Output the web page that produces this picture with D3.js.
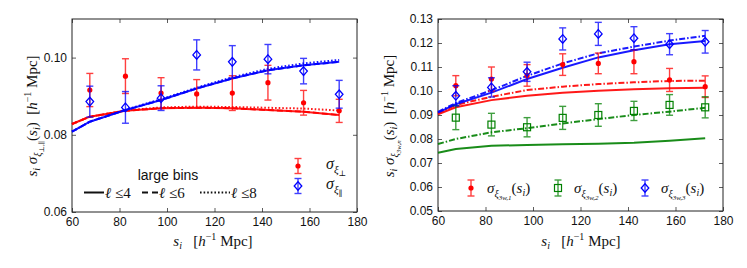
<!DOCTYPE html>
<html><head><meta charset="utf-8">
<script src="https://cdn.jsdelivr.net/npm/d3@7"></script>
<style>body{margin:0;background:#fff}text{white-space:pre}</style>
</head><body><svg id="c" width="747" height="268"></svg>
<script>
// ---------- data ----------
const binCenters = [67.5, 82.5, 97.5, 112.5, 127.5, 142.5, 157.5, 172.5];
const modelX = [60, 67.5, 82.5, 97.5, 112.5, 127.5, 142.5, 157.5, 172.5];
const xTicks = [60, 80, 100, 120, 140, 160, 180];
const leftYTicks = [0.06, 0.08, 0.10];
const rightYTicks = [0.05, 0.06, 0.07, 0.08, 0.09, 0.10, 0.11, 0.12, 0.13];

// left panel: sigma_xi_perp (red) and sigma_xi_par (blue)
const perpVal = [0.0916, 0.0952, 0.0908, 0.0906, 0.0908, 0.0935, 0.0883, 0.0862];
const perpErr = [0.0043, 0.0045, 0.0040, 0.0037, 0.0045, 0.0045, 0.0032, 0.0030];
const parVal  = [0.0886, 0.0871, 0.0895, 0.1007, 0.0989, 0.0996, 0.0965, 0.0905];
const parErr  = [0.0040, 0.0041, 0.0032, 0.0039, 0.0042, 0.0038, 0.0033, 0.0036];
const perpL4 = [0.0828, 0.0847, 0.0862, 0.0869, 0.0870, 0.0869, 0.0864, 0.0860, 0.0851];
const perpL6 = [0.0828, 0.0847, 0.0862, 0.0869, 0.0870, 0.0869, 0.0864, 0.0860, 0.0851];
const perpL8 = [0.0828, 0.0847, 0.0863, 0.0871, 0.0873, 0.0872, 0.0870, 0.0868, 0.0863];
const parL4  = [0.0808, 0.0834, 0.0864, 0.0890, 0.0920, 0.0946, 0.0967, 0.0980, 0.0989];
const parL6  = [0.0808, 0.0834, 0.0864, 0.0890, 0.0920, 0.0946, 0.0967, 0.0980, 0.0989];
const parL8  = [0.0808, 0.0834, 0.0865, 0.0892, 0.0922, 0.0949, 0.0971, 0.0985, 0.0994];

// right panel: sigma_xi_3w,n
const w1Val = [0.1022, 0.1050, 0.1065, 0.1110, 0.1115, 0.1122, 0.1046, 0.1018];
const w1Err = [0.0042, 0.0050, 0.0045, 0.0045, 0.0043, 0.0050, 0.0048, 0.0045];
const w2Val = [0.0889, 0.0860, 0.0849, 0.0888, 0.0900, 0.0917, 0.0942, 0.0932];
const w2Err = [0.0050, 0.0047, 0.0040, 0.0048, 0.0047, 0.0040, 0.0043, 0.0044];
const w3Val = [0.0980, 0.1015, 0.1080, 0.1217, 0.1238, 0.1220, 0.1195, 0.1205];
const w3Err = [0.0042, 0.0040, 0.0040, 0.0046, 0.0048, 0.0048, 0.0044, 0.0047];
const w1Solid   = [0.0903, 0.0932, 0.0962, 0.0980, 0.0993, 0.1001, 0.1007, 0.1011, 0.1014];
const w1DashDot = [0.0908, 0.0942, 0.0976, 0.1004, 0.1018, 0.1029, 0.1036, 0.1042, 0.1043];
const w2Solid   = [0.0743, 0.0758, 0.0772, 0.0775, 0.0778, 0.0780, 0.0784, 0.0793, 0.0803];
const w2DashDot = [0.0779, 0.0800, 0.0828, 0.0845, 0.0865, 0.0883, 0.0900, 0.0914, 0.0930];
const w3Solid   = [0.0910, 0.0945, 0.0993, 0.1050, 0.1097, 0.1140, 0.1170, 0.1195, 0.1208];
const w3DashDot = [0.0913, 0.0950, 0.1003, 0.1063, 0.1115, 0.1157, 0.1185, 0.1210, 0.1230];

// ---------- style ----------
const RED = '#ff0000', BLUE = '#0000ff', GREEN = '#008000';
const SERIF = '"Liberation Serif","DejaVu Serif",serif';
const SANS = '"Liberation Sans",Arial,sans-serif';
const svg = d3.select('#c');

function mathText(parent, x, y, parts, anchor, rotate) {
  const t = parent.append('text').attr('x', x).attr('y', y)
    .attr('text-anchor', anchor || 'start').attr('font-family', SERIF).attr('fill', '#111');
  if (rotate) t.attr('transform', `rotate(${rotate},${x},${y})`);
  let cur = 0;
  parts.forEach(p => {
    const o = p.o || 0;
    t.append('tspan').attr('dy', o - cur).attr('font-size', p.s || 15)
      .attr('font-style', p.i ? 'italic' : 'normal').text(p.t);
    cur = o;
  });
  return t;
}
const si = [{t: 's', i: 1}, {t: 'i', i: 1, s: 10, o: 3}];
const hMpc = [{t: '[', o: 0}, {t: 'h', i: 1}, {t: '−1', s: 10, o: -6}, {t: ' Mpc]', o: 0}];

function panel(cfg) {
  const x = d3.scaleLinear().domain([60, 180]).range([cfg.x0, cfg.x1]);
  const y = d3.scaleLinear().domain(cfg.yDom).range([cfg.y0, cfg.y1]);
  const g = svg.append('g');
  const fmtY = d3.format('.2f');
  g.append('g').attr('transform', `translate(0,${cfg.y0})`)
    .call(d3.axisBottom(x).tickValues(xTicks).tickSizeInner(-4).tickSizeOuter(0).tickPadding(5).tickFormat(d3.format('d')));
  g.append('g').attr('transform', `translate(0,${cfg.y1})`)
    .call(d3.axisTop(x).tickValues(xTicks).tickSizeInner(-4).tickSizeOuter(0).tickFormat(''));
  g.append('g').attr('transform', `translate(${cfg.x0},0)`)
    .call(d3.axisLeft(y).tickValues(cfg.yTicks).tickSizeInner(-4).tickSizeOuter(0).tickPadding(5).tickFormat(fmtY));
  g.append('g').attr('transform', `translate(${cfg.x1},0)`)
    .call(d3.axisRight(y).tickValues(cfg.yTicks).tickSizeInner(-4).tickSizeOuter(0).tickFormat(''));
  g.selectAll('.domain').remove();
  g.selectAll('.tick line').attr('stroke', '#333').attr('stroke-width', 0.8);
  g.selectAll('.tick text').attr('font-family', SANS).attr('font-size', 12).attr('fill', '#111');
  g.append('rect').attr('x', cfg.x0).attr('y', cfg.y1).attr('width', cfg.x1 - cfg.x0).attr('height', cfg.y0 - cfg.y1)
    .attr('fill', 'none').attr('stroke', '#222').attr('stroke-width', 1);
  return {x, y, g};
}

function modelLine(P, vals, color, dash) {
  const line = d3.line().x((d, i) => P.x(modelX[i])).y(d => P.y(d));
  P.g.append('path').attr('d', line(vals)).attr('fill', 'none').attr('stroke', color)
    .attr('stroke-width', 2).attr('stroke-dasharray', dash || null).attr('opacity', 0.9);
}

function errorbar(g, cx, cy, top, bot, color) {
  const e = g.append('g').attr('stroke', color).attr('stroke-width', 1.4).attr('opacity', 0.75);
  e.append('line').attr('x1', cx).attr('x2', cx).attr('y1', top).attr('y2', bot);
  e.append('line').attr('x1', cx - 3.5).attr('x2', cx + 3.5).attr('y1', top).attr('y2', top);
  e.append('line').attr('x1', cx - 3.5).attr('x2', cx + 3.5).attr('y1', bot).attr('y2', bot);
}
function marker(g, type, cx, cy, color) {
  if (type === 'dot') g.append('circle').attr('cx', cx).attr('cy', cy).attr('r', 2.6).attr('fill', color);
  else if (type === 'diamond') g.append('path')
    .attr('d', `M${cx},${cy - 4.3}L${cx + 3.8},${cy}L${cx},${cy + 4.3}L${cx - 3.8},${cy}Z`)
    .attr('fill', 'none').attr('stroke', color).attr('stroke-width', 1.3);
  else g.append('rect').attr('x', cx - 3.5).attr('y', cy - 3.5).attr('width', 7).attr('height', 7)
    .attr('fill', 'none').attr('stroke', color).attr('stroke-width', 1.2);
}
function points(P, vals, errs, color, type) {
  vals.forEach((v, i) => {
    const cx = P.x(binCenters[i]);
    errorbar(P.g, cx, P.y(v), P.y(v + errs[i]), P.y(v - errs[i]), color);
    marker(P.g, type, cx, P.y(v), color);
  });
}

// ---------- left panel ----------
const L = panel({x0: 72, x1: 357, y0: 212, y1: 19, yDom: [0.06, 0.11], yTicks: leftYTicks});
modelLine(L, perpL6, RED, '6,3');
modelLine(L, perpL8, RED, '1.6,2');
modelLine(L, perpL4, RED);
modelLine(L, parL6, BLUE, '6,3');
modelLine(L, parL8, BLUE, '1.6,2');
modelLine(L, parL4, BLUE);
points(L, perpVal, perpErr, RED, 'dot');
points(L, parVal, parErr, BLUE, 'diamond');

// left legends
L.g.append('text').attr('x', 168).attr('y', 180).attr('text-anchor', 'middle')
  .attr('font-family', SANS).attr('font-size', 14).attr('fill', '#111').text('large bins');
const lsItems = [{x1: 84, x2: 104, dash: null, lab: '4'}, {x1: 142, x2: 158, dash: '6,4', lab: '6'}, {x1: 200, x2: 230, dash: '1.6,2', lab: '8'}];
lsItems.forEach(it => {
  L.g.append('line').attr('x1', it.x1).attr('x2', it.x2).attr('y1', 192.5).attr('y2', 192.5)
    .attr('stroke', '#111').attr('stroke-width', 2).attr('stroke-dasharray', it.dash);
  mathText(L.g, it.x2 + 1, 197.5, [{t: 'ℓ', i: 1}, {t: ' ≤'}, {t: it.lab}]);
});
[[RED, 'dot', 166, '⊥'], [BLUE, 'diamond', 186, '∥']].forEach(([c, m, yy, sym]) => {
  errorbar(L.g, 298, yy, yy - 7.5, yy + 7.5, c);
  marker(L.g, m, 298, yy, c);
  mathText(L.g, 326, yy + 3, [{t: 'σ', i: 1, s: 16}, {t: 'ξ', i: 1, s: 11, o: 4}, {t: sym, s: 8, o: 7}]);
});
// left labels
mathText(svg, 37, 116, [...si, {t: ' '}, {t: 'σ', i: 1}, {t: 'ξ', i: 1, s: 10, o: 4}, {t: '⊥,∥', s: 7, o: 7},
  {t: '(', o: 0}, {t: 's', i: 1}, {t: 'i', i: 1, s: 10, o: 3}, {t: ')  ', o: 0}, ...hMpc], 'middle', -90);
mathText(svg, 213, 246, [...si, {t: '   ', o: 0}, ...hMpc], 'middle');

// ---------- right panel ----------
const R = panel({x0: 438, x1: 723, y0: 211, y1: 19, yDom: [0.05, 0.13], yTicks: rightYTicks});
modelLine(R, w1Solid, RED);
modelLine(R, w1DashDot, RED, '6,2,1.5,2');
modelLine(R, w2Solid, GREEN);
modelLine(R, w2DashDot, GREEN, '6,2,1.5,2');
modelLine(R, w3Solid, BLUE);
modelLine(R, w3DashDot, BLUE, '6,2,1.5,2');
points(R, w1Val, w1Err, RED, 'dot');
points(R, w2Val, w2Err, GREEN, 'square');
points(R, w3Val, w3Err, BLUE, 'diamond');

[[RED, 'dot', 471, '1'], [GREEN, 'square', 558, '2'], [BLUE, 'diamond', 645, '3']].forEach(([c, m, xx, n]) => {
  errorbar(R.g, xx, 188, 180, 196, c);
  marker(R.g, m, xx, 188, c);
  mathText(R.g, xx + 16, 193, [{t: 'σ', i: 1}, {t: 'ξ', i: 1, s: 10, o: 4}, {t: '3w,' + n, i: 1, s: 7, o: 7},
    {t: '(', o: 0}, {t: 's', i: 1}, {t: 'i', i: 1, s: 10, o: 3}, {t: ')', o: 0}]);
});
mathText(svg, 394, 116, [...si, {t: ' '}, {t: 'σ', i: 1}, {t: 'ξ', i: 1, s: 10, o: 4}, {t: '3w,n', i: 1, s: 7, o: 7},
  {t: '(', o: 0}, {t: 's', i: 1}, {t: 'i', i: 1, s: 10, o: 3}, {t: ')  ', o: 0}, ...hMpc], 'middle', -90);
mathText(svg, 581, 246, [...si, {t: '   ', o: 0}, ...hMpc], 'middle');
</script></body></html>
